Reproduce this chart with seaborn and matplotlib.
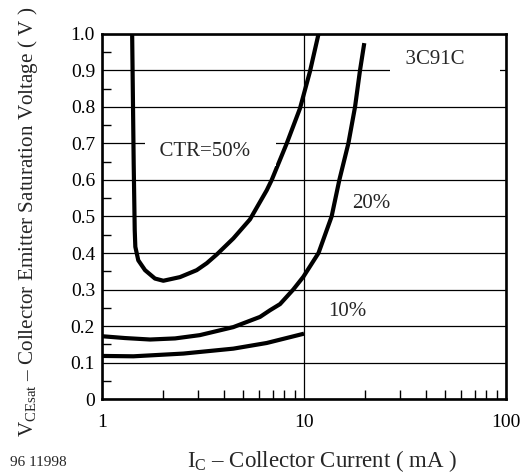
import numpy as np
import pandas as pd
import matplotlib
matplotlib.use("Agg")
import matplotlib.pyplot as plt
from matplotlib.ticker import FixedLocator, NullFormatter, LogLocator
import seaborn as sns

# ---- data ----
ctr50_ic = [1.41, 1.435, 1.452, 1.462, 1.512, 1.633, 1.829, 2.012, 2.433, 2.943,
            3.30, 3.70, 4.47, 5.40, 6.54, 6.92, 8.21, 9.55, 10.7, 11.8]
ctr50_v = [1.00, 0.645, 0.463, 0.417, 0.380, 0.353, 0.330, 0.324, 0.334, 0.353,
           0.372, 0.396, 0.440, 0.492, 0.572, 0.600, 0.700, 0.796, 0.897, 1.00]

ctr20_ic = [1.0, 1.30, 1.73, 2.30, 3.05, 4.47, 6.06, 6.78, 7.61, 8.85, 9.93,
            11.8, 13.7, 14.96, 16.58, 17.89, 18.93, 19.88]
ctr20_v = [0.172, 0.167, 0.163, 0.166, 0.175, 0.197, 0.225, 0.243, 0.260, 0.300, 0.335,
           0.400, 0.500, 0.600, 0.700, 0.800, 0.900, 0.975]

ctr10_ic = [1.0, 1.43, 2.53, 4.47, 6.54, 10.0]
ctr10_v = [0.118, 0.117, 0.1245, 0.138, 0.1535, 0.179]

y_ticks = [0, 0.1, 0.2, 0.3, 0.4, 0.5, 0.6, 0.7, 0.8, 0.9, 1.0]
y_tick_labels = ["0", "0.1", "0.2", "0.3", "0.4", "0.5", "0.6", "0.7", "0.8", "0.9", "1.0"]
x_ticks = [1, 10, 100]
x_tick_labels = ["1", "10", "100"]

df = pd.concat([
    pd.DataFrame({"ic": ctr50_ic, "v": ctr50_v, "ctr": "50%"}),
    pd.DataFrame({"ic": ctr20_ic, "v": ctr20_v, "ctr": "20%"}),
    pd.DataFrame({"ic": ctr10_ic, "v": ctr10_v, "ctr": "10%"}),
], ignore_index=True)

sns.set_theme(style="white")
plt.rcParams["font.family"] = ["Liberation Serif", "DejaVu Serif"]
plt.rcParams["mathtext.fontset"] = "custom"
plt.rcParams["mathtext.rm"] = "Liberation Serif"
plt.rcParams["mathtext.it"] = "Liberation Serif:italic"

fig = plt.figure(figsize=(5.25, 4.74), dpi=100)
ax = fig.add_axes([0.1943, 0.1582, 0.9638 - 0.1943, 0.9283 - 0.1582])

sns.lineplot(data=df, x="ic", y="v", units="ctr", estimator=None, sort=False,
             color="black", linewidth=3.0, ax=ax, legend=False)
for ln in ax.get_lines():
    ln.set_solid_joinstyle("round")
    ln.set_solid_capstyle("butt")

ax.set_xscale("log")
ax.set_xlim(1, 100)
ax.set_ylim(0, 1.0)

ax.set_yticks(y_ticks)
ax.set_yticklabels(y_tick_labels)
ax.set_xticks(x_ticks)
ax.set_xticklabels(x_tick_labels)
ax.xaxis.set_minor_locator(LogLocator(base=10, subs=np.arange(2, 10)))
ax.xaxis.set_minor_formatter(NullFormatter())
ax.yaxis.set_minor_locator(FixedLocator(np.arange(0.05, 1.0, 0.1)))

ax.tick_params(axis="both", which="major", length=0, labelsize=14, colors="black")
ax.tick_params(axis="x", which="major", pad=11)
ax.tick_params(axis="y", which="major", pad=5)
ax.tick_params(axis="both", which="minor", direction="in", length=6.5, width=1.0,
               color="black", bottom=True, left=True, top=False, right=False)

ax.set_axisbelow(True)
ax.grid(axis="y", which="major", color="black", linewidth=0.9)
ax.grid(axis="x", which="major", color="black", linewidth=0.9)

for sp in ax.spines.values():
    sp.set_visible(True)
    sp.set_color("black")
    sp.set_linewidth(1.9)

ax.set_xlabel("")
ax.set_ylabel("")

box = dict(boxstyle="square,pad=0.2", fc="white", ec="none")
ax.text(3.44, 0.677, "  CTR=50%    ", fontsize=15, ha="center", va="center", bbox=box, zorder=3)
ax.text(49.9, 0.929, "  3C91C      ", fontsize=15, ha="center", va="center", bbox=box, zorder=3)
ax.text(21.6, 0.536, "20%", fontsize=15, ha="center", va="center")
ax.text(16.3, 0.241, "10%", fontsize=15, ha="center", va="center")

fig.text(322 / 525, 1 - 461 / 474, r"I$_{\mathrm{C}}$ – Collector Current ( mA )",
         fontsize=16.5, ha="center", va="center")
fig.text(28 / 525, 1 - 222 / 474,
         r"V$_{\mathrm{CEsat}}$ – Collector Emitter Saturation Voltage ( V )",
         fontsize=15.2, ha="center", va="center", rotation=90)
fig.text(38 / 525, 1 - 462 / 474, "96 11998", fontsize=11, ha="center", va="center")

fig.savefig("out.png", dpi=100)
